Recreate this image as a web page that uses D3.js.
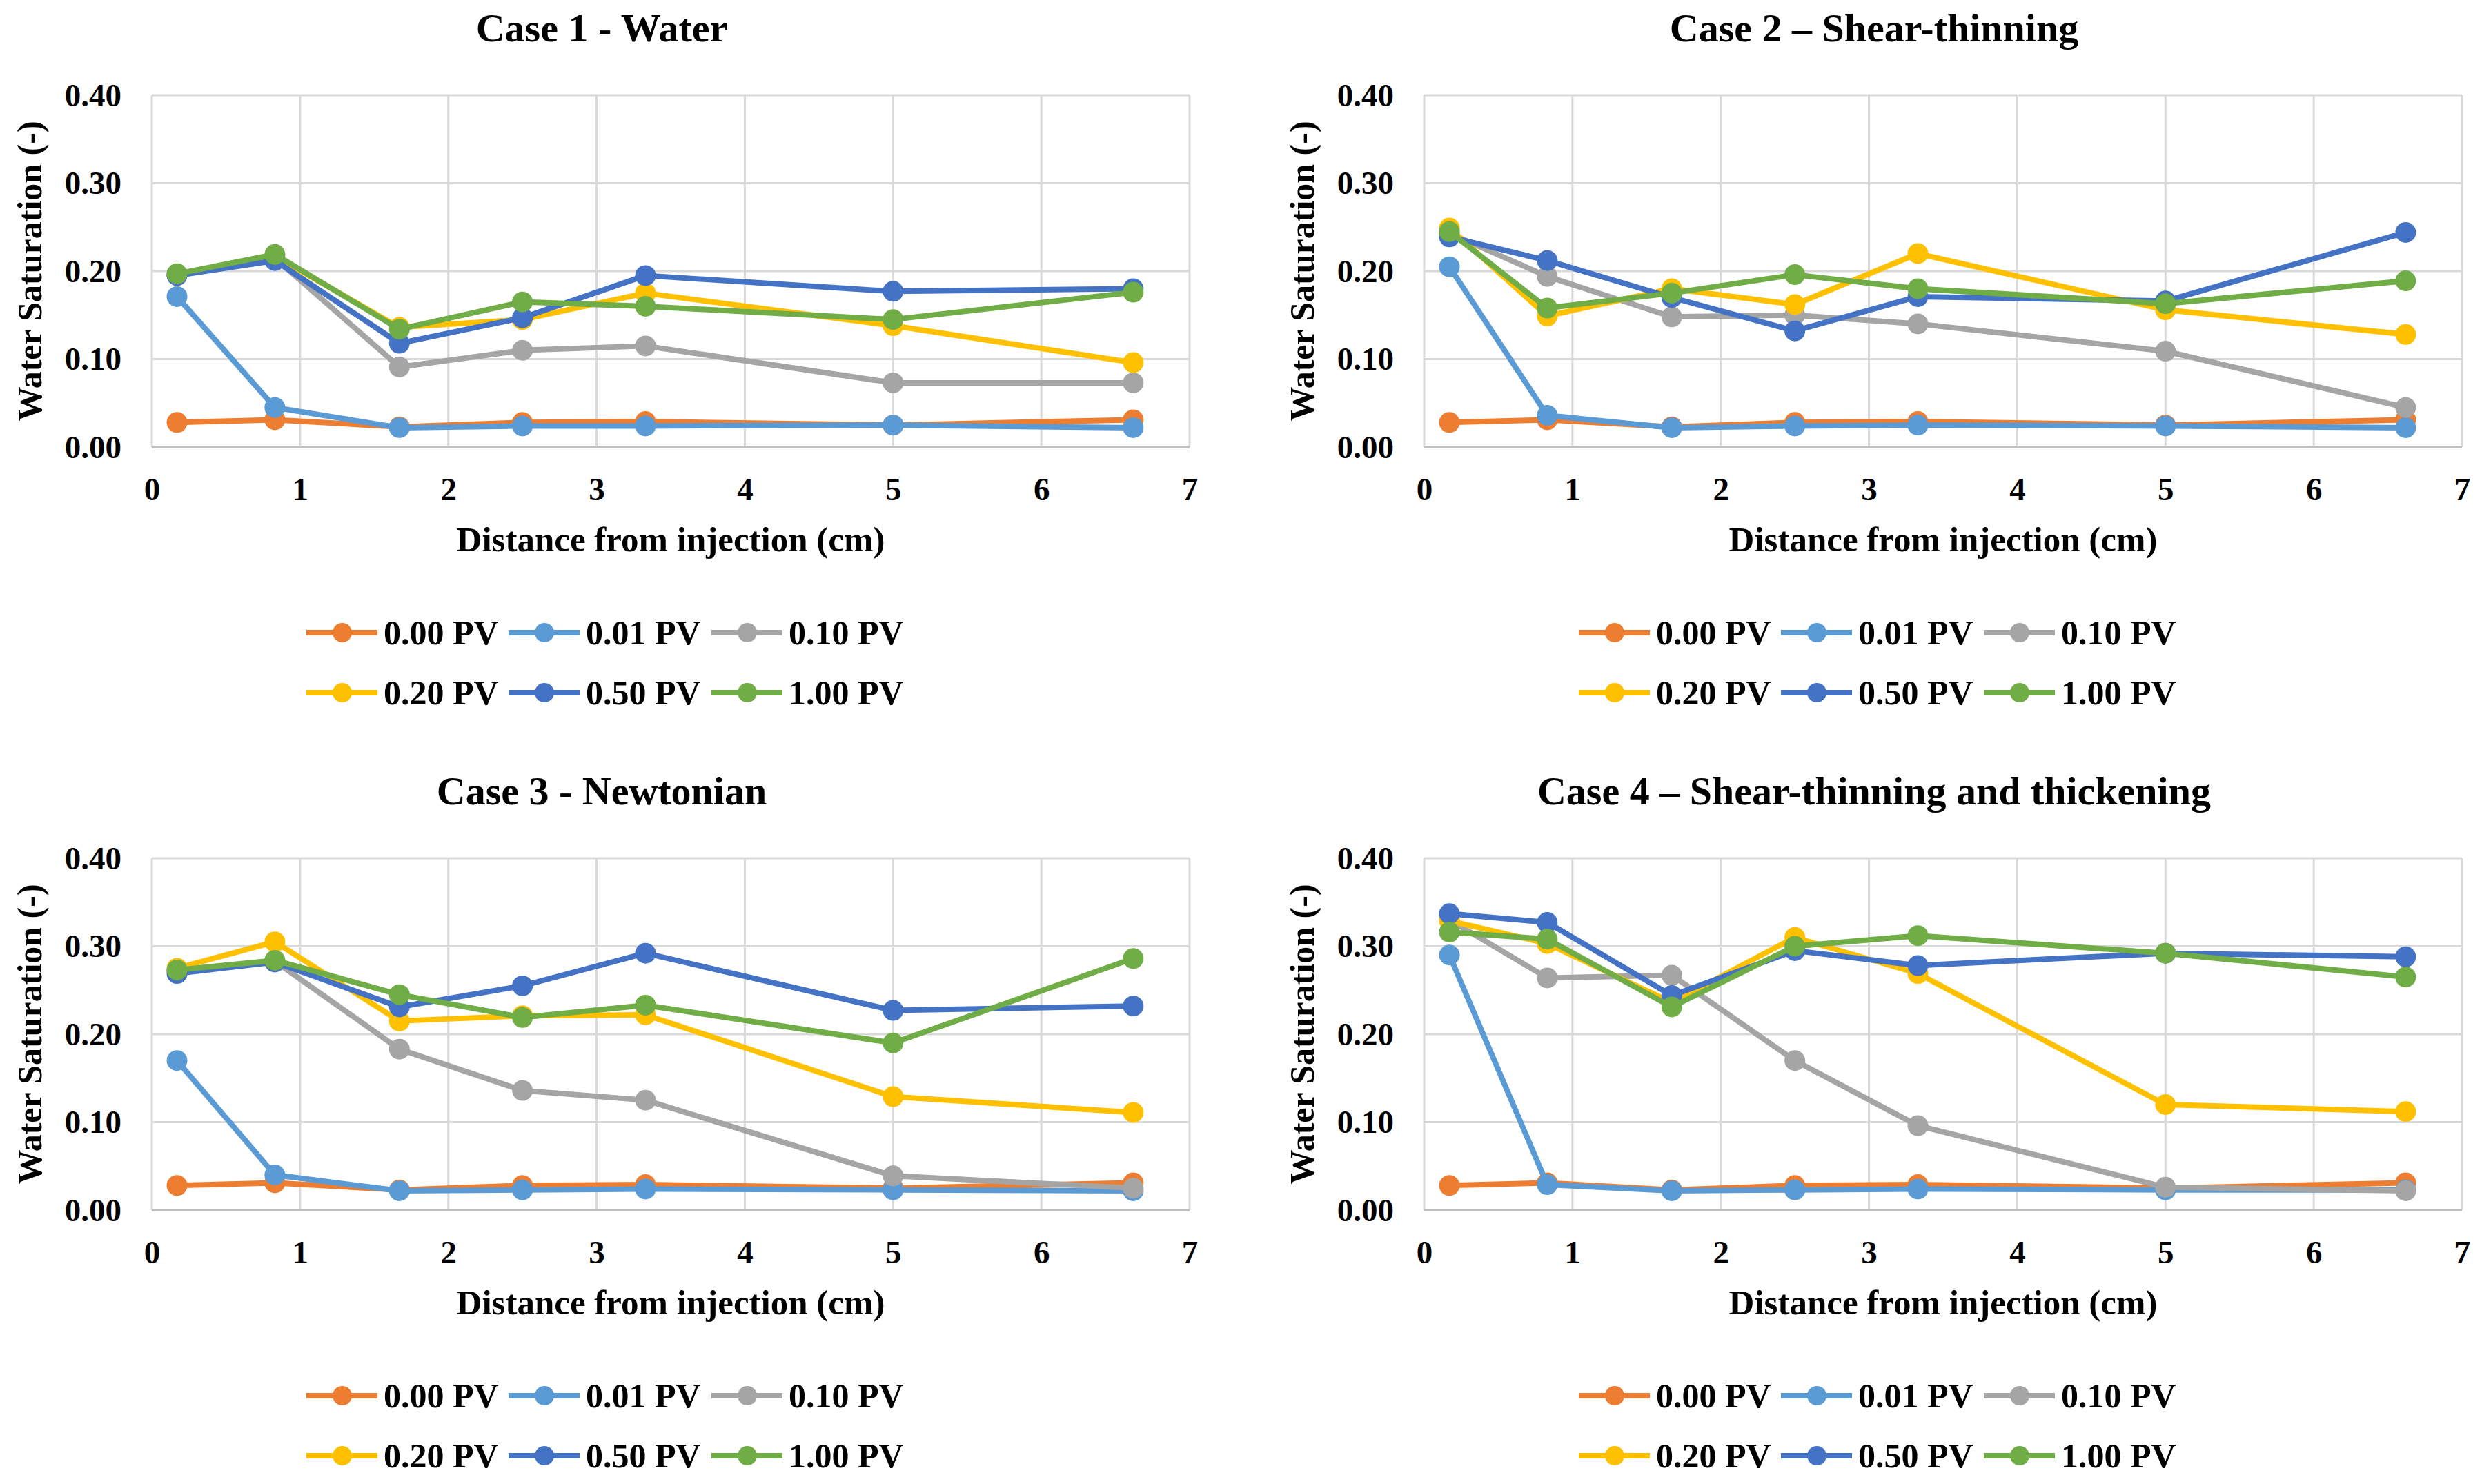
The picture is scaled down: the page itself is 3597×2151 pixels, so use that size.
<!DOCTYPE html>
<html>
<head>
<meta charset="utf-8">
<script src="https://cdn.jsdelivr.net/npm/d3@7"></script>
<style>
body { margin: 0; background: #fff; }
text { font-family: "Liberation Serif", "Times New Roman", serif; font-weight: bold; fill: #000; }
</style>
</head>
<body>
<svg id="chart" width="3597" height="2151"></svg>
<script>
// distance of each measuring point (cm)
const distances = [0.17, 0.83, 1.67, 2.5, 3.33, 5.0, 6.62]
const seriesNames = ['0.00 PV', '0.01 PV', '0.10 PV', '0.20 PV', '0.50 PV', '1.00 PV']
const seriesColors = ['#ED7D31', '#5B9BD5', '#A5A5A5', '#FFC000', '#4472C4', '#70AD47']
const xTicks = [0, 1, 2, 3, 4, 5, 6, 7]
const yTicks = [0, 0.1, 0.2, 0.3, 0.4]
const titles = ['Case 1 - Water', 'Case 2 \u2013 Shear-thinning', 'Case 3 - Newtonian', 'Case 4 \u2013 Shear-thinning and thickening']

const initial = [0.028, 0.031, 0.023, 0.028, 0.029, 0.025, 0.031]

const case1 = [
  initial,
  [0.171, 0.045, 0.022, 0.024, 0.024, 0.025, 0.022],
  [0.196, 0.215, 0.091, 0.110, 0.115, 0.073, 0.073],
  [0.196, 0.217, 0.136, 0.145, 0.175, 0.138, 0.096],
  [0.195, 0.212, 0.118, 0.147, 0.195, 0.177, 0.180],
  [0.197, 0.219, 0.134, 0.165, 0.160, 0.145, 0.176]
]
const case2 = [
  initial,
  [0.205, 0.036, 0.022, 0.024, 0.025, 0.024, 0.022],
  [0.243, 0.194, 0.148, 0.150, 0.140, 0.109, 0.045],
  [0.249, 0.149, 0.180, 0.162, 0.220, 0.156, 0.128],
  [0.239, 0.212, 0.170, 0.132, 0.171, 0.166, 0.244],
  [0.245, 0.158, 0.175, 0.196, 0.180, 0.163, 0.189]
]
const case3 = [
  initial,
  [0.170, 0.040, 0.022, 0.023, 0.024, 0.023, 0.022],
  [0.272, 0.283, 0.183, 0.136, 0.125, 0.039, 0.025],
  [0.275, 0.305, 0.215, 0.221, 0.222, 0.129, 0.111],
  [0.269, 0.282, 0.231, 0.255, 0.292, 0.227, 0.232],
  [0.273, 0.284, 0.245, 0.219, 0.233, 0.190, 0.286]
]
const case4 = [
  initial,
  [0.290, 0.029, 0.022, 0.023, 0.024, 0.023, 0.023],
  [0.330, 0.264, 0.267, 0.170, 0.096, 0.026, 0.022],
  [0.329, 0.303, 0.236, 0.310, 0.269, 0.120, 0.112],
  [0.337, 0.327, 0.244, 0.295, 0.278, 0.292, 0.288],
  [0.316, 0.308, 0.231, 0.300, 0.312, 0.292, 0.265]
]
const cases = [case1, case2, case3, case4]

const svg = d3.select('#chart')
const offsets = [[0, 0], [1844, 0], [0, 1106], [1844, 1106]]
const plot = { left: 220, right: 1724, top: 138, bottom: 648 }

const x = d3.scaleLinear().domain([0, 7]).range([plot.left, plot.right])
const y = d3.scaleLinear().domain([0, 0.4]).range([plot.bottom, plot.top])
const line = d3.line().x((d, i) => x(distances[i])).y(d => y(d))

cases.forEach((data, ci) => {
  const [ox, oy] = offsets[ci]
  const $g = svg.append('g').attr('transform', `translate(${ox},${oy})`)

  $g.append('text')
    .attr('x', 872).attr('y', 60)
    .attr('text-anchor', 'middle')
    .style('font-size', '58px')
    .text(titles[ci])

  // grid
  $g.append('g').selectAll('line.vg')
    .data(xTicks).enter().append('line')
    .attr('x1', d => x(d)).attr('x2', d => x(d))
    .attr('y1', plot.top).attr('y2', plot.bottom)
    .attr('stroke', '#d9d9d9').attr('stroke-width', 3)
  $g.append('g').selectAll('line.hg')
    .data(yTicks).enter().append('line')
    .attr('x1', plot.left).attr('x2', plot.right)
    .attr('y1', d => y(d)).attr('y2', d => y(d))
    .attr('stroke', d => d === 0 ? '#bfbfbf' : '#d9d9d9').attr('stroke-width', d => d === 0 ? 4 : 3)

  // axes (labels only)
  const xAxis = $g.append('g')
    .attr('transform', `translate(0,${plot.bottom})`)
    .call(d3.axisBottom(x).tickValues(xTicks).tickFormat(d3.format('d')).tickSize(0).tickPadding(44))
  const yAxis = $g.append('g')
    .attr('transform', `translate(${plot.left},0)`)
    .call(d3.axisLeft(y).tickValues(yTicks).tickFormat(d3.format('.2f')).tickSize(0).tickPadding(44))
  ;[xAxis, yAxis].forEach(a => {
    a.select('.domain').remove()
    a.selectAll('text')
      .style('font-family', '"Liberation Serif", serif')
      .style('font-weight', 'bold')
      .style('font-size', '47px')
      .attr('fill', '#000')
  })

  $g.append('text')
    .attr('x', (plot.left + plot.right) / 2).attr('y', 799)
    .attr('text-anchor', 'middle')
    .style('font-size', '51px')
    .text('Distance from injection (cm)')

  $g.append('text')
    .attr('transform', `translate(60,${(plot.top + plot.bottom) / 2}) rotate(-90)`)
    .attr('text-anchor', 'middle')
    .style('font-size', '50px')
    .text('Water Saturation (-)')

  // series
  data.forEach((vals, si) => {
    const s = $g.append('g')
    s.append('path')
      .datum(vals)
      .attr('d', line)
      .attr('fill', 'none')
      .attr('stroke', seriesColors[si])
      .attr('stroke-width', 8)
      .attr('stroke-linejoin', 'round')
    s.selectAll('circle')
      .data(vals).enter().append('circle')
      .attr('cx', (d, i) => x(distances[i]))
      .attr('cy', d => y(d))
      .attr('r', 15)
      .attr('fill', seriesColors[si])
  })

  // legend
  const legendX = [444, 737, 1031]
  const legendY = [917, 1004]
  seriesNames.forEach((name, si) => {
    const lx = legendX[si % 3]
    const ly = legendY[Math.floor(si / 3)]
    const item = $g.append('g').attr('transform', `translate(${lx},${ly})`)
    item.append('line')
      .attr('x1', 0).attr('x2', 103).attr('y1', 0).attr('y2', 0)
      .attr('stroke', seriesColors[si]).attr('stroke-width', 8)
    item.append('circle')
      .attr('cx', 52).attr('cy', 0).attr('r', 14)
      .attr('fill', seriesColors[si])
    item.append('text')
      .attr('x', 112).attr('y', 17)
      .style('font-size', '50px')
      .text(name)
  })
})
</script>
</body>
</html>
